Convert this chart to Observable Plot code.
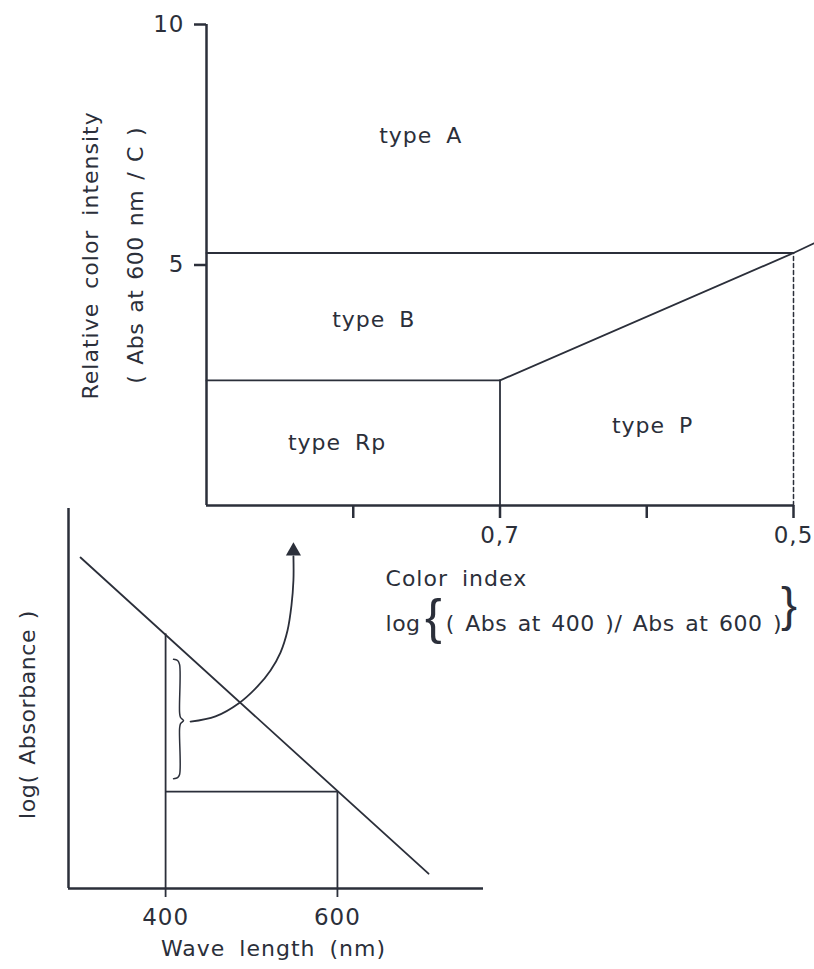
<!DOCTYPE html>
<html>
<head>
<meta charset="utf-8">
<script src="https://cdn.jsdelivr.net/npm/d3@7"></script>
<script src="https://cdn.jsdelivr.net/npm/@observablehq/plot@0.6"></script>
<style>
  html, body { margin: 0; padding: 0; background: #fff; }
  #fig { position: relative; width: 814px; height: 969px; }
  #fig svg { position: absolute; left: 0; overflow: visible; }
  #fig svg text { letter-spacing: 1px; word-spacing: 6px; }
</style>
</head>
<body>
<div id="fig"></div>
<script>
const ink = "#2b2f3a";
const font = "DejaVu Sans";

// ---- Upper diagram: humus type vs. color index and relative color intensity ----
const colorIndexDomain = [0.9, 0.5];          // reversed: falls from left to right
const intensityDomain = [0, 10];
const colorIndexTicks = [0.8, 0.7, 0.6, 0.5];
const colorIndexTickLabels = {0.7: "0,7", 0.5: "0,5"};
const intensityTicks = [5, 10];

// type boundaries
const boundaryAB = [{ci: 0.9, rf: 5.25}, {ci: 0.5, rf: 5.25}];
const boundaryBRp = [{ci: 0.9, rf: 2.6}, {ci: 0.7, rf: 2.6}];
const boundaryRpP = [{ci: 0.7, rf: 0}, {ci: 0.7, rf: 2.6}];
const boundaryBP = [{ci: 0.7, rf: 2.6}, {ci: 0.5, rf: 5.25}, {ci: 0.486, rf: 5.45}];
const guide05 = [{ci: 0.5, rf: 0}, {ci: 0.5, rf: 5.25}];

const regionNames = ["type A", "type B", "type Rp", "type P"];
const regionCI = [0.754, 0.786, 0.811, 0.596];
const regionRF = [7.69, 3.85, 1.31, 1.66];

// axis titles (rotated y title placed left of the frame)
const yTitleLines = ["Relative color intensity", "( Abs at 600 nm / C )"];
const yTitleCI = [0.979, 0.948];
const yTitleRF = [5.2, 5.2];
const xTitle = "Color index";
const formulaParts = ["log", "{", "( Abs at 400 )/ Abs at 600 )", "}"];
const formulaCI = [0.778, 0.745, 0.737, 0.5027];
const formulaAnchors = ["start", "middle", "start", "middle"];
const formulaSizes = [22, 50, 22, 48];
const formulaDy = [125, 128, 125, 115];

// ---- Lower diagram: absorbance spectrum ----
const waveDomain = [287, 770];
const absDomain = [0, 10];
const waveTicks = [400, 600];
const spectrum = [{wl: 301, a: 8.71}, {wl: 706, a: 0.39}];
const abs400 = 6.7;
const abs600 = 2.55;
const brace = [
  {wl: 409.3, a: 6.03}, {wl: 414.0, a: 6.00}, {wl: 416.3, a: 5.89},
  {wl: 416.3, a: 4.63}, {wl: 417.4, a: 4.50}, {wl: 420.9, a: 4.42},
  {wl: 417.4, a: 4.34}, {wl: 416.3, a: 4.21}, {wl: 416.3, a: 3.00},
  {wl: 414.0, a: 2.92}, {wl: 409.3, a: 2.89}
];
const arrowPath = [
  {wl: 429.1, a: 4.39}, {wl: 458.1, a: 4.53}, {wl: 484.9, a: 4.87},
  {wl: 507.0, a: 5.32}, {wl: 522.1, a: 5.74}, {wl: 533.7, a: 6.21},
  {wl: 541.9, a: 6.79}, {wl: 546.5, a: 7.45}, {wl: 548.8, a: 8.11},
  {wl: 548.8, a: 8.74}
];
const arrowTip = [{wl: 548.8, a: 8.88}];
const absTitle = [{wl: 239.3, a: 4.58, label: "log( Absorbance )"}];
const waveTitle = "Wave length (nm)";
const waveTitleWL = 525.6;

// per-label spacing of the hand lettering
const labelSpacing = {
  "( Abs at 400 )/ Abs at 600 )": ["0.5px", "3px"],
  "( Abs at 600 nm / C )": ["0.5px", "2.5px"],
  "log( Absorbance )": ["0.6px", "2px"],
  "log": ["0.5px", "0px"]
};

const fig = document.getElementById("fig");

const upper = Plot.plot({
  width: 814, height: 660,
  marginTop: 24, marginBottom: 155, marginLeft: 206, marginRight: 21,
  style: {background: "transparent", fontFamily: font, fontSize: "22px", color: ink},
  x: {domain: colorIndexDomain, axis: null},
  y: {domain: intensityDomain, axis: null},
  marks: [
    Plot.ruleX([colorIndexDomain[0]], {y1: intensityDomain[0], y2: intensityDomain[1], stroke: ink, strokeWidth: 2.5}),
    Plot.ruleY([0], {x1: colorIndexDomain[0], x2: colorIndexDomain[1], stroke: ink, strokeWidth: 2.5}),
    Plot.axisY(intensityTicks, {tickSize: 12, tickPadding: 10, strokeWidth: 2.5, color: ink, fontSize: 23, label: null}),
    Plot.axisX(colorIndexTicks, {tickSize: 13, tickPadding: 8, strokeWidth: 2.5, color: ink, fontSize: 23, label: null,
      tickFormat: d => colorIndexTickLabels[d] ?? ""}),
    Plot.line(boundaryAB, {x: "ci", y: "rf", stroke: ink, strokeWidth: 1.8}),
    Plot.line(boundaryBRp, {x: "ci", y: "rf", stroke: ink, strokeWidth: 1.8}),
    Plot.line(boundaryRpP, {x: "ci", y: "rf", stroke: ink, strokeWidth: 1.8}),
    Plot.line(boundaryBP, {x: "ci", y: "rf", stroke: ink, strokeWidth: 1.8}),
    Plot.line(guide05, {x: "ci", y: "rf", stroke: ink, strokeWidth: 1.5, strokeDasharray: "4,3"}),
    Plot.text(regionNames, {x: (d, i) => regionCI[i], y: (d, i) => regionRF[i], text: d => d,
      fontSize: 22, fill: ink}),
    Plot.text(yTitleLines, {x: (d, i) => yTitleCI[i], y: (d, i) => yTitleRF[i], text: d => d,
      rotate: -90, fontSize: 22, fill: ink}),
    Plot.text([xTitle], {frameAnchor: "bottom", x: () => formulaCI[0], text: d => d, textAnchor: "start",
      dy: 80, fontSize: 22, fill: ink}),
    ...formulaParts.map((part, i) => Plot.text([part], {
      frameAnchor: "bottom", x: () => formulaCI[i], text: d => d, textAnchor: formulaAnchors[i],
      dy: formulaDy[i], fontSize: formulaSizes[i], fill: ink,
      fontFamily: i % 2 ? "Liberation Sans" : font, fontWeight: i % 2 ? 300 : 400
    }))
  ]
});
upper.style.top = "0px";
fig.appendChild(upper);

const lower = Plot.plot({
  width: 814, height: 489,
  marginTop: 28, marginBottom: 81, marginLeft: 68, marginRight: 331,
  style: {background: "transparent", fontFamily: font, fontSize: "22px", color: ink},
  x: {domain: waveDomain, axis: null},
  y: {domain: absDomain, axis: null},
  marks: [
    Plot.ruleX([waveDomain[0]], {y1: absDomain[0], y2: absDomain[1], stroke: ink, strokeWidth: 2.5}),
    Plot.ruleY([0], {x1: waveDomain[0], x2: waveDomain[1], stroke: ink, strokeWidth: 2.5}),
    Plot.axisX(waveTicks, {tickSize: 9, tickPadding: 11, strokeWidth: 1.8, color: ink, fontSize: 23, label: null}),
    Plot.line(spectrum, {x: "wl", y: "a", stroke: ink, strokeWidth: 1.8}),
    Plot.ruleX([400], {y1: 0, y2: abs400, stroke: ink, strokeWidth: 1.8}),
    Plot.ruleX([600], {y1: 0, y2: abs600, stroke: ink, strokeWidth: 1.8}),
    Plot.ruleY([abs600], {x1: 400, x2: 600, stroke: ink, strokeWidth: 1.8}),
    Plot.line(brace, {x: "wl", y: "a", stroke: ink, strokeWidth: 1.5, curve: "catmull-rom"}),
    Plot.line(arrowPath, {x: "wl", y: "a", stroke: ink, strokeWidth: 1.8, curve: "catmull-rom"}),
    Plot.dot(arrowTip, {x: "wl", y: "a", symbol: "triangle", r: 5.6, fill: ink, stroke: null}),
    Plot.text(absTitle, {x: "wl", y: "a", text: "label", rotate: -90, fontSize: 22, fill: ink}),
    Plot.text([waveTitle], {frameAnchor: "bottom", x: () => waveTitleWL, text: d => d, dy: 67,
      fontSize: 22, fill: ink})
  ]
});
lower.style.top = "480px";
fig.appendChild(lower);

d3.selectAll("#fig svg text").each(function () {
  const s = labelSpacing[this.textContent];
  if (s) d3.select(this).style("letter-spacing", s[0]).style("word-spacing", s[1]);
});
</script>
</body>
</html>
